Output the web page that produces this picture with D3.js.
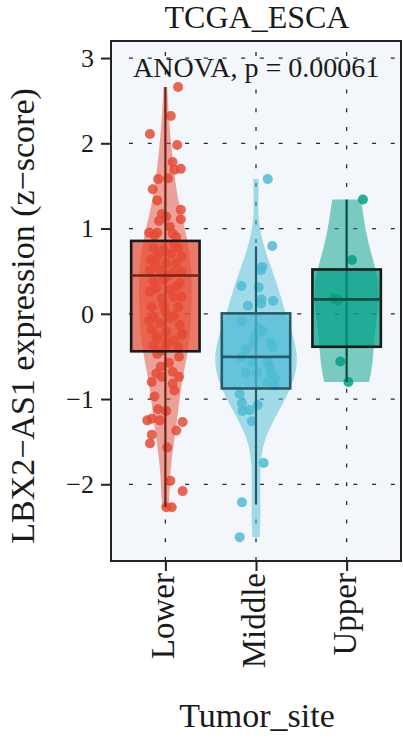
<!DOCTYPE html>
<html>
<head>
<meta charset="utf-8">
<script src="https://cdn.jsdelivr.net/npm/d3@7"></script>
<style>
  body { margin: 0; background: #fff; }
  svg text { font-family: "Liberation Serif", "DejaVu Serif", serif !important; fill: #1a1a1a; }
</style>
</head>
<body>
<div id="chart"></div>
<script>
// categories and colours
var sites = ["Lower", "Middle", "Upper"];
var siteColors = ["#E64B35", "#4DBBD5", "#00A087"];
var yTicks = [-2, -1, 0, 1, 2, 3];

// box statistics: [min, q1, median, q3, max]
var boxLower = [-2.27, -0.44, 0.45, 0.855, 2.66];
var boxMiddle = [-2.23, -0.876, -0.505, 0.005, 0.79];
var boxUpper = [-0.80, -0.387, 0.169, 0.52, 1.34];

// jittered points: [offset (category units), value]
var ptsLower = [
  [0.14, 2.66], [0.06, 2.32], [-0.17, 2.11], [0.13, 1.98], [0.08, 1.78], [0.10, 1.69],
  [0.17, 1.70], [-0.08, 1.58], [0.03, 1.59], [-0.14, 1.46], [-0.09, 1.33], [0.17, 1.22],
  [0.17, 1.11], [-0.04, 1.17], [0.01, 1.14], [-0.07, 1.09], [-0.18, 0.95], [0.08, 0.94],
  [-0.09, 0.95], [0.05, 1.02], [-0.12, 0.92], [0.12, 0.90],
  [-0.13, 0.77], [-0.02, 0.75], [0.14, 0.77], [0.18, 0.67], [-0.11, 0.59], [0.01, 0.59],
  [0.12, 0.59], [-0.17, 0.51], [-0.06, 0.51], [0.09, 0.49], [0.18, 0.49], [-0.13, 0.38],
  [-0.02, 0.40], [0.16, 0.36], [-0.17, 0.26], [0.05, 0.28], [-0.04, 0.18], [0.09, 0.20],
  [0.18, 0.20], [-0.15, 0.08], [-0.02, 0.10], [0.14, 0.08], [-0.13, -0.035], [0.05, -0.05],
  [-0.06, -0.11], [0.16, -0.13], [-0.15, -0.19], [0.01, -0.21], [0.18, -0.25], [-0.08, -0.29],
  [0.09, -0.31], [-0.13, -0.37], [0.01, -0.37], [0.14, -0.39], [-0.04, -0.43], [0.19, -0.23],
  [-0.10, -0.27], [0.03, -0.33], [-0.08, 0.68], [0.06, 0.70], [0.10, 0.82], [-0.16, 0.63],
  [0.03, 0.45], [-0.10, 0.30], [0.12, 0.32], [0.00, 0.02], [0.10, -0.02], [-0.18, -0.08],
  [-0.09, -0.47], [0.15, -0.505], [0.04, -0.575], [-0.10, -0.70], [-0.04, -0.74], [0.08, -0.68],
  [0.15, -0.74], [0.08, -0.82], [-0.15, -0.80], [-0.12, -0.97], [-0.08, -1.12], [0.01, -1.14],
  [-0.20, -1.25], [-0.15, -1.23], [-0.06, -1.25], [0.19, -1.27], [0.12, -1.37], [-0.15, -1.42],
  [-0.17, -1.52], [0.02, -1.57], [0.055, -1.96], [0.19, -2.08], [0.01, -2.27], [0.07, -2.27],
  [-0.05, -0.62], [0.10, -0.90]
];
var ptsMiddle = [
  [0.13, 1.58], [0.18, 0.795], [0.07, 0.55], [0.055, 0.51], [-0.16, 0.325], [0.03, 0.31],
  [0.06, 0.17], [0.055, 0.12], [-0.09, 0.094], [0.19, 0.15], [-0.16, -0.09], [0.03, -0.17],
  [0.07, -0.20], [0.02, -0.22], [-0.02, -0.29], [0.165, -0.34], [0.18, -0.39], [-0.11, -0.42],
  [-0.165, -0.51], [-0.04, -0.575], [0.13, -0.56], [0.15, -0.61], [-0.11, -0.69], [0.01, -0.69],
  [0.165, -0.69], [0.13, -0.80], [0.20, -0.84], [-0.18, -0.94], [-0.155, -1.05], [-0.15, -1.14],
  [-0.07, -1.13], [0.02, -1.07], [-0.045, -1.26], [0.085, -1.75], [-0.155, -2.21], [-0.18, -2.62],
  [0.21, -0.76], [-0.03, -0.35]
];
var ptsUpper = [
  [0.18, 1.34], [0.06, 0.63], [-0.14, 0.18], [-0.09, 0.16], [-0.07, -0.56], [0.02, -0.80]
];

var groups = [
  {site: sites[0], color: siteColors[0], box: boxLower, pts: ptsLower},
  {site: sites[1], color: siteColors[1], box: boxMiddle, pts: ptsMiddle},
  {site: sites[2], color: siteColors[2], box: boxUpper, pts: ptsUpper}
];

var W = 403, H = 740;
var panel = {left: 111, right: 401, top: 41, bottom: 561};
var serif = '"Liberation Serif", "DejaVu Serif", serif';

var svg = d3.select("#chart").append("svg")
    .attr("width", W)
    .attr("height", H);

var x = d3.scaleLinear().domain([0.4, 3.6]).range([panel.left, panel.right]);
var y = d3.scaleLinear().domain([-2.9, 3.2]).range([panel.bottom, panel.top]);
var unit = x(2) - x(1);

// panel background
svg.append("rect")
    .attr("x", panel.left).attr("y", panel.top)
    .attr("width", panel.right - panel.left)
    .attr("height", panel.bottom - panel.top)
    .attr("fill", "#F3F6FA");

// dotted grid
var grid = svg.append("g").attr("stroke", "#2a2a2a").attr("stroke-width", 1.3)
    .attr("stroke-dasharray", "4,14.7");
grid.selectAll("line.h").data(yTicks).enter().append("line")
    .attr("x1", panel.left + 18).attr("x2", panel.right)
    .attr("y1", d => y(d)).attr("y2", d => y(d));
grid.selectAll("line.v").data(sites).enter().append("line")
    .attr("x1", (d, i) => x(i + 1)).attr("x2", (d, i) => x(i + 1))
    .attr("y1", panel.bottom).attr("y2", panel.top);

// gaussian kernel density like R's density() with bw.nrd0, trimmed to the data range
function density(vals) {
  var sorted = vals.slice().sort(d3.ascending);
  var n = sorted.length;
  var sd = d3.deviation(sorted);
  var iqr = d3.quantile(sorted, 0.75) - d3.quantile(sorted, 0.25);
  var bw = 0.9 * Math.min(sd, iqr / 1.34) * Math.pow(n, -0.2);
  var lo = sorted[0], hi = sorted[n - 1];
  var k = 1 / (bw * Math.sqrt(2 * Math.PI));
  return d3.range(0, 121).map(function(i) {
    var g = lo + (hi - lo) * i / 120;
    return [g, k * d3.mean(sorted, v => Math.exp(-0.5 * Math.pow((g - v) / bw, 2)))];
  });
}

// scale = "area": every violin shares one maximum
groups.forEach(g => g.dens = density(g.pts.map(p => p[1])));
var maxDens = d3.max(groups, g => d3.max(g.dens, d => d[1]));

var plot = svg.append("g");

groups.forEach(function(g, i) {
  var cx = x(i + 1);
  var half = 0.45 * unit;
  var area = d3.area()
      .y(d => y(d[0]))
      .x0(d => cx - d[1] / maxDens * half)
      .x1(d => cx + d[1] / maxDens * half);
  plot.append("path")
      .datum(g.dens)
      .attr("d", area)
      .attr("fill", g.color)
      .attr("fill-opacity", 0.5);

  var dark = d3.color(g.color).darker(2).formatHex();

  // jittered points
  plot.append("g").selectAll("circle")
      .data(g.pts).enter().append("circle")
      .attr("cx", d => cx + d[0] * unit)
      .attr("cy", d => y(d[1]))
      .attr("r", 5)
      .attr("fill", g.color)
      .attr("fill-opacity", 0.85);

  // whiskers
  var b = g.box;
  plot.append("line")
      .attr("x1", cx).attr("x2", cx)
      .attr("y1", y(b[0])).attr("y2", y(b[4]))
      .attr("stroke", dark).attr("stroke-width", 2.2);

  var bw = 0.755 * unit;
  plot.append("rect")
      .attr("x", cx - bw / 2).attr("width", bw)
      .attr("y", y(b[3])).attr("height", y(b[1]) - y(b[3]))
      .attr("fill", g.color).attr("fill-opacity", 0.72)
      .attr("stroke", i == 1 ? dark : "#1a1a1a").attr("stroke-width", 2.6);
  plot.append("line")
      .attr("x1", cx - bw / 2).attr("x2", cx + bw / 2)
      .attr("y1", y(b[2])).attr("y2", y(b[2]))
      .attr("stroke", dark).attr("stroke-width", 2.6);
});

// panel border
svg.append("rect")
    .attr("x", panel.left).attr("y", panel.top)
    .attr("width", panel.right - panel.left)
    .attr("height", panel.bottom - panel.top)
    .attr("fill", "none").attr("stroke", "#222").attr("stroke-width", 2);

// y axis
var yAxis = svg.append("g")
    .attr("transform", `translate(${panel.left},0)`)
    .call(d3.axisLeft(y).tickValues(yTicks).tickSize(10).tickPadding(7).tickFormat(d3.format("d")));
yAxis.attr("font-family", serif);
yAxis.select(".domain").remove();
yAxis.selectAll(".tick line").attr("stroke", "#222").attr("stroke-width", 2);
yAxis.selectAll(".tick text")
    .style("font-size", "26px").attr("fill", "#1a1a1a");

// x axis
var xAxis = svg.append("g")
    .attr("transform", `translate(0,${panel.bottom})`)
    .call(d3.axisBottom(x).tickValues([1, 2, 3]).tickSize(10).tickFormat(d => sites[d - 1]));
xAxis.attr("font-family", serif);
xAxis.select(".domain").remove();
xAxis.selectAll(".tick line").attr("stroke", "#222").attr("stroke-width", 2);
xAxis.selectAll(".tick text")
    .style("font-size", "33px").attr("fill", "#1a1a1a")
    .attr("text-anchor", "end")
    .attr("transform", "rotate(-90)")
    .attr("x", -12).attr("y", -3).attr("dy", "0.35em");

// titles
svg.append("text")
    .attr("x", (panel.left + panel.right) / 2 + 1).attr("y", 28)
    .attr("text-anchor", "middle")
    .attr("font-family", serif)
    .style("font-size", "32px")
    .text("TCGA_ESCA");

svg.append("text")
    .attr("x", 133).attr("y", 77)
    .attr("font-family", serif)
    .style("font-size", "28px")
    .text("ANOVA, p = 0.00061");

svg.append("text")
    .attr("transform", "translate(34,316) rotate(-90)")
    .attr("text-anchor", "middle")
    .attr("font-family", serif)
    .style("font-size", "34px")
    .text("LBX2\u2212AS1 expression (z\u2212score)");

svg.append("text")
    .attr("x", (panel.left + panel.right) / 2 + 1).attr("y", 727)
    .attr("text-anchor", "middle")
    .attr("font-family", serif)
    .style("font-size", "34px")
    .text("Tumor_site");
</script>
</body>
</html>
